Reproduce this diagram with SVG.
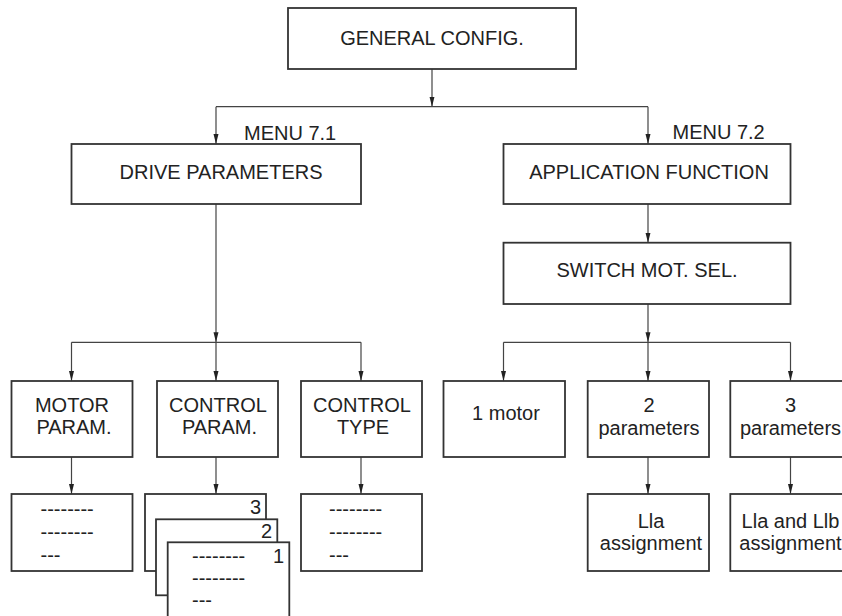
<svg xmlns="http://www.w3.org/2000/svg" width="842" height="616" viewBox="0 0 842 616">
<style>
  .box { fill: #fff; stroke: #333; stroke-width: 1.8; }
  .t { font-family: "Liberation Sans", Arial, sans-serif; font-size: 20px; fill: #222; }
  .m { text-anchor: middle; }
  .e { text-anchor: end; }
  .c { fill: none; stroke: #444; stroke-width: 1.2; }
  .a { marker-end: url(#arr); }
</style>
<defs>
  <marker id="arr" markerUnits="userSpaceOnUse" markerWidth="10" markerHeight="6" refX="10" refY="3" orient="auto">
    <path d="M0,0.5 L10,3 L0,5.5 Z" fill="#222"/>
  </marker>
</defs>
<rect width="842" height="616" fill="#fff"/>

<g id="connectors">
  <path class="c a" d="M432,69 V106.7"/>
  <path class="c" d="M216,106.7 H648"/>
  <path class="c a" d="M216,106.7 V144"/>
  <path class="c a" d="M648,106.7 V144"/>
  <path class="c a" d="M216,204 V342.3"/>
  <path class="c" d="M71.5,342.3 H361"/>
  <path class="c a" d="M71.5,342.3 V381"/>
  <path class="c a" d="M216,342.3 V381"/>
  <path class="c a" d="M361,342.3 V381"/>
  <path class="c a" d="M648,204 V242.7"/>
  <path class="c a" d="M648,304 V342.3"/>
  <path class="c" d="M503.5,342.3 H790.5"/>
  <path class="c a" d="M503.5,342.3 V381"/>
  <path class="c a" d="M648,342.3 V381"/>
  <path class="c a" d="M790.5,342.3 V381"/>
  <path class="c a" d="M71.5,457 V494"/>
  <path class="c a" d="M216,457 V494"/>
  <path class="c a" d="M361,457 V494"/>
  <path class="c a" d="M648,457 V494"/>
  <path class="c a" d="M790.5,457 V494"/>
</g>

<g id="general">
  <rect class="box" x="288" y="8" width="288" height="61"/>
  <text class="t m" x="432" y="45">GENERAL CONFIG.</text>
</g>

<g id="menu71">
  <text class="t" x="244" y="140">MENU 7.1</text>
</g>
<g id="drive">
  <rect class="box" x="71.5" y="144" width="289.5" height="60"/>
  <text class="t m" x="221" y="179">DRIVE PARAMETERS</text>
</g>

<g id="menu72">
  <text class="t" x="672.5" y="138.5">MENU 7.2</text>
</g>
<g id="application">
  <rect class="box" x="503.5" y="144" width="287" height="60"/>
  <text class="t m" x="649" y="178.5">APPLICATION FUNCTION</text>
</g>

<g id="switch">
  <rect class="box" x="503.5" y="242.7" width="287" height="61.3"/>
  <text class="t m" x="647" y="277">SWITCH MOT. SEL.</text>
</g>

<g id="motor-param">
  <rect class="box" x="11.5" y="381" width="121" height="76"/>
  <text class="t m" x="72" y="412">MOTOR</text>
  <text class="t m" x="74" y="434">PARAM.</text>
</g>
<g id="control-param">
  <rect class="box" x="157" y="381" width="121" height="76"/>
  <text class="t m" x="218" y="412">CONTROL</text>
  <text class="t m" x="219.5" y="434">PARAM.</text>
</g>
<g id="control-type">
  <rect class="box" x="301" y="381" width="121" height="76"/>
  <text class="t m" x="362" y="412">CONTROL</text>
  <text class="t m" x="363" y="434">TYPE</text>
</g>

<g id="motor-list">
  <rect class="box" x="11.5" y="494" width="121" height="77"/>
  <text class="t" x="40.5" y="515.5">--------</text>
  <text class="t" x="40.5" y="538.5">--------</text>
  <text class="t" x="40.5" y="562">---</text>
</g>

<g id="control-list-3">
  <rect class="box" x="145" y="494" width="121" height="77"/>
  <text class="t e" x="261" y="514">3</text>
</g>
<g id="control-list-2">
  <rect class="box" x="156" y="519.3" width="121.3" height="76"/>
  <text class="t e" x="272" y="538">2</text>
</g>
<g id="control-list-1">
  <rect class="box" x="167.7" y="542.3" width="121.6" height="76"/>
  <text class="t e" x="284" y="563">1</text>
  <text class="t" x="192" y="562.5">--------</text>
  <text class="t" x="192" y="584.5">--------</text>
  <text class="t" x="192" y="606.5">---</text>
</g>

<g id="type-list">
  <rect class="box" x="301" y="494" width="121" height="77"/>
  <text class="t" x="329" y="515.5">--------</text>
  <text class="t" x="329" y="538.5">--------</text>
  <text class="t" x="329" y="562">---</text>
</g>

<g id="one-motor">
  <rect class="box" x="443.5" y="381" width="121.5" height="76"/>
  <text class="t m" x="506" y="420">1 motor</text>
</g>
<g id="two-params">
  <rect class="box" x="587.7" y="381" width="121.3" height="76"/>
  <text class="t m" x="649" y="412">2</text>
  <text class="t m" x="649" y="435">parameters</text>
</g>
<g id="three-params">
  <rect class="box" x="730.3" y="381" width="121.3" height="76"/>
  <text class="t m" x="790.5" y="412">3</text>
  <text class="t m" x="790.5" y="435">parameters</text>
</g>
<g id="lla">
  <rect class="box" x="587.7" y="494" width="121.3" height="77"/>
  <text class="t m" x="651" y="528">Lla</text>
  <text class="t m" x="651" y="550">assignment</text>
</g>
<g id="lla-llb">
  <rect class="box" x="730.3" y="494" width="121.3" height="77"/>
  <text class="t m" x="790.5" y="528">Lla and Llb</text>
  <text class="t m" x="790.5" y="550">assignment</text>
</g>
</svg>
